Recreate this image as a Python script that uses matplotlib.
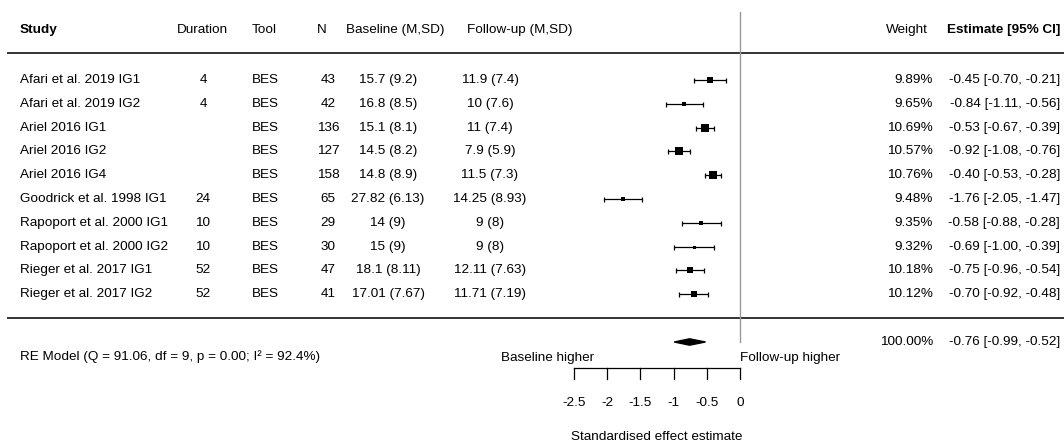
import numpy as np
import matplotlib
matplotlib.use("Agg")
import matplotlib.pyplot as plt
from matplotlib.patches import Polygon

plt.rcParams['font.family'] = ['Liberation Sans', 'DejaVu Sans']

# data
studies = ["Afari et al. 2019 IG1", "Afari et al. 2019 IG2", "Ariel 2016 IG1",
           "Ariel 2016 IG2", "Ariel 2016 IG4", "Goodrick et al. 1998 IG1",
           "Rapoport et al. 2000 IG1", "Rapoport et al. 2000 IG2",
           "Rieger et al. 2017 IG1", "Rieger et al. 2017 IG2"]
duration = ["4", "4", "", "", "", "24", "10", "10", "52", "52"]
tool = ["BES"] * 10
n = [43, 42, 136, 127, 158, 65, 29, 30, 47, 41]
baseline = ["15.7 (9.2)", "16.8 (8.5)", "15.1 (8.1)", "14.5 (8.2)", "14.8 (8.9)",
            "27.82 (6.13)", "14 (9)", "15 (9)", "18.1 (8.11)", "17.01 (7.67)"]
followup = ["11.9 (7.4)", "10 (7.6)", "11 (7.4)", "7.9 (5.9)", "11.5 (7.3)",
            "14.25 (8.93)", "9 (8)", "9 (8)", "12.11 (7.63)", "11.71 (7.19)"]
weights = [9.89, 9.65, 10.69, 10.57, 10.76, 9.48, 9.35, 9.32, 10.18, 10.12]
est = [-0.45, -0.84, -0.53, -0.92, -0.40, -1.76, -0.58, -0.69, -0.75, -0.70]
lo = [-0.70, -1.11, -0.67, -1.08, -0.53, -2.05, -0.88, -1.00, -0.96, -0.92]
hi = [-0.21, -0.56, -0.39, -0.76, -0.28, -1.47, -0.28, -0.39, -0.54, -0.48]
re_est, re_lo, re_hi = -0.76, -0.99, -0.52
re_label = "RE Model (Q = 91.06, df = 9, p = 0.00; I\u00b2 = 92.4%)"
xticks = [-2.5, -2, -1.5, -1, -0.5, 0]

W, H = 1064, 441
PX_PER_UNIT = 66.4    # pixels per effect unit
X0 = 740              # pixel of effect = 0
ROW0, ROWH = 80, 23.8 # pixel of first row, row height

fig = plt.figure(figsize=(W / 100, H / 100), dpi=100)
ax = fig.add_axes([0, 0, 1, 1])
ax.set_xlim(-X0 / PX_PER_UNIT, (W - X0) / PX_PER_UNIT)
ax.set_ylim((H - ROW0) / ROWH, -ROW0 / ROWH)
ax.axis('off')

def row(py):
    # pixel y -> row units
    return (py - ROW0) / ROWH

tr = ax.get_yaxis_transform()  # x in axes fraction, y in data
fs = 9.7
k = len(studies)
rows = np.arange(k)

# headers
hy = row(30)
ax.text(20 / W, hy, "Study", transform=tr, fontsize=fs, fontweight='bold', va='center')
ax.text(202 / W, hy, "Duration", transform=tr, fontsize=fs, ha='center', va='center')
ax.text(252 / W, hy, "Tool", transform=tr, fontsize=fs, va='center')
ax.text(322 / W, hy, "N", transform=tr, fontsize=fs, ha='center', va='center')
ax.text(395 / W, hy, "Baseline (M,SD)", transform=tr, fontsize=fs, ha='center', va='center')
ax.text(520 / W, hy, "Follow-up (M,SD)", transform=tr, fontsize=fs, ha='center', va='center')
ax.text(928 / W, hy, "Weight", transform=tr, fontsize=fs, ha='right', va='center')
ax.text(1060 / W, hy, "Estimate [95% CI]", transform=tr, fontsize=fs,
        fontweight='bold', ha='right', va='center')

# table columns
for i in range(k):
    y = rows[i]
    ax.text(20 / W, y, studies[i], transform=tr, fontsize=fs, va='center')
    ax.text(203 / W, y, duration[i], transform=tr, fontsize=fs, ha='center', va='center')
    ax.text(252 / W, y, tool[i], transform=tr, fontsize=fs, va='center')
    ax.text(328 / W, y, str(n[i]), transform=tr, fontsize=fs, ha='center', va='center')
    ax.text(388 / W, y, baseline[i], transform=tr, fontsize=fs, ha='center', va='center')
    ax.text(490 / W, y, followup[i], transform=tr, fontsize=fs, ha='center', va='center')
    ax.text(933 / W, y, "%.2f%%" % weights[i], transform=tr, fontsize=fs, ha='right', va='center')
    ax.text(1060 / W, y, "%.2f [%.2f, %.2f]" % (est[i], lo[i], hi[i]), transform=tr,
            fontsize=fs, ha='right', va='center')

# horizontal rules
ax.plot([8 / W, 1], [row(53), row(53)], transform=tr, color='#333333', lw=1.4)
ax.plot([8 / W, 1], [row(318), row(318)], transform=tr, color='#333333', lw=1.4)

# reference line at 0
ax.plot([0, 0], [row(12), row(342)], color='#999999', lw=1.0)

# CIs and squares sized by weight
wmin, wmax = min(weights), max(weights)
for i in range(k):
    size_px = 3 + 5.5 * (weights[i] - wmin) / (wmax - wmin)
    ax.errorbar(est[i], rows[i], xerr=[[est[i] - lo[i]], [hi[i] - est[i]]],
                fmt='none', ecolor='black', elinewidth=0.9, capsize=1.8, capthick=0.9)
    ax.plot(est[i], rows[i], marker='s', color='black', ms=size_px * 0.72, mew=0)

# summary diamond
sy = row(342)
dh = 3.2 / ROWH
ax.add_patch(Polygon([[re_lo, sy], [re_est, sy - dh], [re_hi, sy], [re_est, sy + dh]],
                     closed=True, color='black'))
ax.text(20 / W, row(357), re_label, transform=tr, fontsize=fs, va='center')
ax.text(933 / W, sy, "100.00%", transform=tr, fontsize=fs, ha='right', va='center')
ax.text(1060 / W, sy, "%.2f [%.2f, %.2f]" % (re_est, re_lo, re_hi), transform=tr,
        fontsize=fs, ha='right', va='center')

# effect axis
ay = row(368)
tb = row(379)
ax.plot([xticks[0], xticks[-1]], [ay, ay], color='black', lw=0.9)
for t in xticks:
    ax.plot([t, t], [ay, tb], color='black', lw=0.9)
    ax.text(t, row(403), "%g" % t, fontsize=fs, ha='center', va='center')
ax.text(np.mean([xticks[0], xticks[-1]]), row(437), "Standardised effect estimate",
        fontsize=fs, ha='center', va='center')
ax.text(-2.2, row(358), "Baseline higher", fontsize=fs, ha='right', va='center')
ax.text(0, row(358), "Follow-up higher", fontsize=fs, ha='left', va='center')

fig.savefig("out.png", dpi=100, facecolor='white')
